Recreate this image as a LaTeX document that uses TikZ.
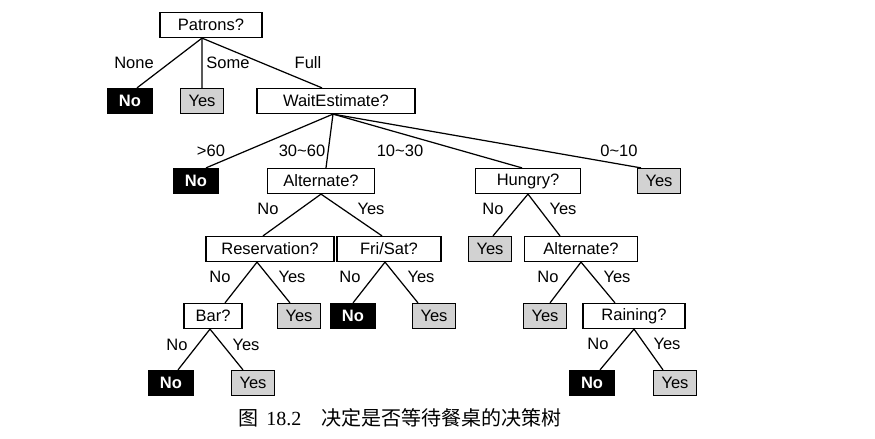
\documentclass[tikz,border=0pt]{standalone}
\usepackage{fontspec}
\setmainfont{Liberation Sans}
\newfontfamily\cjk{Noto Sans CJK SC}
\newfontfamily\capnum{Liberation Serif}
\usepackage{tikz}
\tikzset{
		test/.style = {draw, fill=white, line width=0.7pt, minimum height=5mm, inner sep=0pt},
		leafno/.style = {draw, fill=black, text=white, font=\fontsize{9.4}{11}\selectfont\bfseries, line width=0.7pt, minimum width=8.8mm, minimum height=5mm, inner sep=0pt},
		leafyes/.style = {draw, fill=gray!35, line width=0.7pt, minimum width=8.6mm, minimum height=5mm, inner sep=0pt},
		lbl/.style = {inner sep=0pt},
		branch/.style = {line width=0.7pt}
	}
\begin{document}
\begin{tikzpicture}[x=0.02cm, y=-0.02cm, font=\fontsize{9.4}{11}\selectfont]
		\useasboundingbox (0,0) rectangle (875,439);

		\node[test, minimum width=2.04cm] (patrons) at (211,25)  {Patrons?};
		\node[leafno]                     (noA)     at (130,101) {No};
		\node[leafyes]                    (yesA)    at (202,101) {Yes};
		\node[test, minimum width=3.16cm] (wait)    at (336,101) {WaitEstimate?};

		\node[leafno]                     (noB)     at (196,181) {No};
		\node[test, minimum width=2.14cm] (alt)     at (321,181) {Alternate?};
		\node[test, minimum width=2.10cm] (hungry)  at (528,181) {Hungry?};
		\node[leafyes]                    (yesB)    at (659,181) {Yes};

		\node[test, minimum width=2.56cm] (resv)    at (270,249) {Reservation?};
		\node[test, minimum width=2.08cm] (frisat)  at (389,249) {Fri/Sat?};
		\node[leafyes]                    (yesC)    at (490,249) {Yes};
		\node[test, minimum width=2.26cm] (alttwo)  at (581,249) {Alternate?};

		\node[test, minimum width=1.16cm] (bar)     at (213,316) {Bar?};
		\node[leafyes]                    (yesD)    at (299,316) {Yes};
		\node[leafno]                     (noC)     at (353,316) {No};
		\node[leafyes]                    (yesE)    at (434,316) {Yes};
		\node[leafyes]                    (yesF)    at (545,316) {Yes};
		\node[test, minimum width=2.04cm] (rain)    at (634,316) {Raining?};

		\node[leafno]                     (noD)     at (171,383) {No};
		\node[leafyes]                    (yesG)    at (253,383) {Yes};
		\node[leafno]                     (noE)     at (592,383) {No};
		\node[leafyes]                    (yesH)    at (675,383) {Yes};

		\path[branch] ([xshift=-1.8mm]patrons.south) edge ([xshift=1.4mm]noA.north)
			([xshift=-1.8mm]patrons.south) edge (yesA.north)
			([xshift=-1.8mm]patrons.south) edge ([xshift=-2.8mm]wait.north);
		\path[branch] ([xshift=-0.6mm]wait.south) edge ([xshift=2mm]noB.north)
			([xshift=-0.6mm]wait.south) edge ([xshift=1mm]alt.north)
			([xshift=-0.6mm]wait.south) edge ([xshift=-1.2mm]hungry.north)
			([xshift=-0.6mm]wait.south) edge ([xshift=-3.6mm]yesB.north);
		\path[branch] (alt.south) edge ([xshift=-1.4mm]resv.north)
			(alt.south) edge ([xshift=-1.4mm]frisat.north);
		\path[branch] (hungry.south) edge ([xshift=0.6mm]yesC.north)
			(hungry.south) edge ([xshift=-4.2mm]alttwo.north);
		\path[branch] ([xshift=-2.6mm]resv.south) edge ([xshift=2.4mm]bar.north)
			([xshift=-2.6mm]resv.south) edge ([xshift=-1.8mm]yesD.north);
		\path[branch] ([xshift=-0.8mm]frisat.south) edge (noC.north)
			([xshift=-0.8mm]frisat.south) edge ([xshift=-3.2mm]yesE.north);
		\path[branch] (alttwo.south) edge ([xshift=1mm]yesF.north)
			(alttwo.south) edge ([xshift=-3.8mm]rain.north);
		\path[branch] ([xshift=-0.6mm]bar.south) edge ([xshift=1.4mm]noD.north)
			([xshift=-0.6mm]bar.south) edge ([xshift=-2mm]yesG.north);
		\path[branch] (rain.south) edge ([xshift=1.6mm]noE.north)
			(rain.south) edge ([xshift=-2.4mm]yesH.north);

		\node[lbl] (lNone)  at (134,63)  {None};
		\node[lbl] (lSome)  at (228,63)  {Some};
		\node[lbl] (lFull)  at (308,63)  {Full};
		\node[lbl] (lSixty) at (211,151) {>60};
		\node[lbl] (lThirtySixty) at (302,151) {30\textasciitilde 60};
		\node[lbl] (lTenThirty)   at (400,151) {10\textasciitilde 30};
		\node[lbl] (lZeroTen)     at (619,151) {0\textasciitilde 10};
		\node[lbl] (lAltNo)   at (268,209) {No};
		\node[lbl] (lAltYes)  at (371,209) {Yes};
		\node[lbl] (lHunNo)   at (493,209) {No};
		\node[lbl] (lHunYes)  at (563,209) {Yes};
		\node[lbl] (lResNo)   at (220,277) {No};
		\node[lbl] (lResYes)  at (292,277) {Yes};
		\node[lbl] (lFriNo)   at (350,277) {No};
		\node[lbl] (lFriYes)  at (421,277) {Yes};
		\node[lbl] (lAltTwoNo)  at (548,277) {No};
		\node[lbl] (lAltTwoYes) at (617,277) {Yes};
		\node[lbl] (lBarNo)   at (177,345) {No};
		\node[lbl] (lBarYes)  at (246,345) {Yes};
		\node[lbl] (lRainNo)  at (598,344) {No};
		\node[lbl] (lRainYes) at (667,344) {Yes};

		\node[font=\fontsize{11.4}{13}\selectfont] (caption) at (400,418)
			{{\cjk 图}\hspace{1.6mm}{\capnum 18.2}\hspace{4mm}{\cjk 决定是否等待餐桌的决策树}};
	\end{tikzpicture}
\end{document}
